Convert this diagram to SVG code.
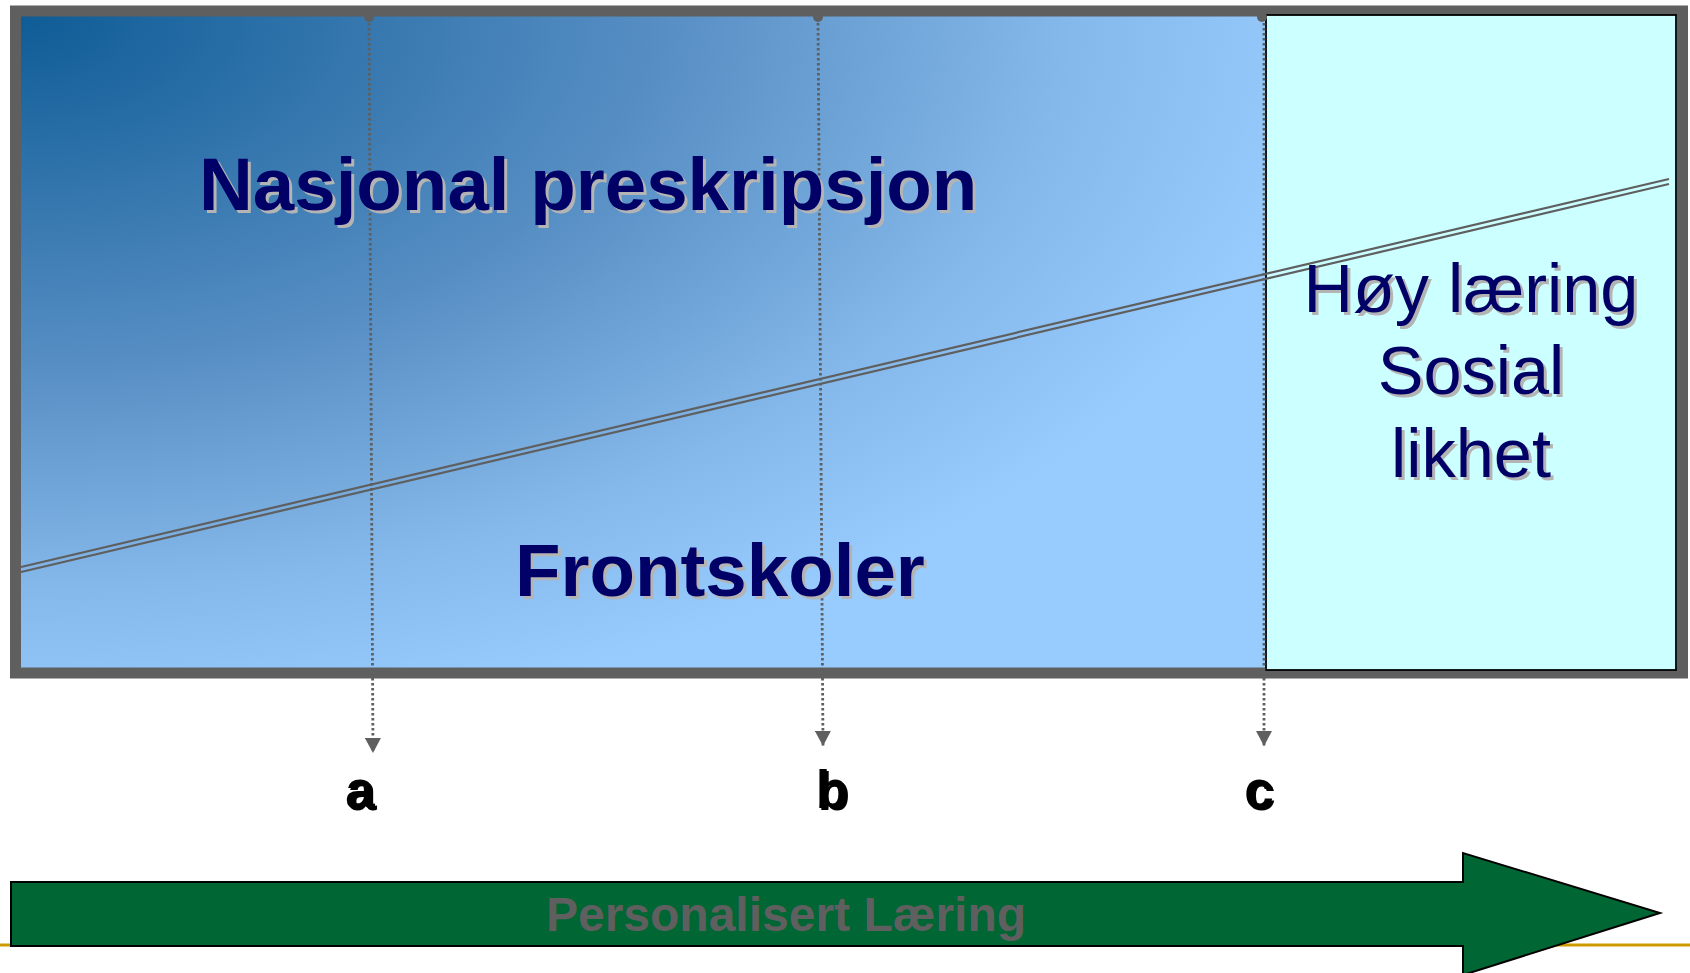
<svg xmlns="http://www.w3.org/2000/svg" width="1690" height="973" viewBox="0 0 1690 973">
  <defs>
    <radialGradient id="bg" gradientUnits="userSpaceOnUse" cx="0" cy="0" r="1" gradientTransform="translate(21,17) scale(1320,720)">
      <stop offset="0" stop-color="#0f5c96"/>
      <stop offset="0.5" stop-color="#5990c5"/>
      <stop offset="0.8" stop-color="#86b9eb"/>
      <stop offset="1" stop-color="#98cbfe"/>
    </radialGradient>
    <marker id="tri" markerUnits="userSpaceOnUse" markerWidth="16" markerHeight="16" refX="15" refY="8" orient="auto">
      <path d="M0,0 L15,8 L0,16 Z" fill="#5f5f5f"/>
    </marker>
  </defs>
  <style>
    .main { font-family: "Liberation Sans", Arial, sans-serif; font-weight: bold; font-size: 74.5px; fill: #000066; }
    .side { font-family: "Liberation Sans", Arial, sans-serif; font-size: 68.5px; fill: #000066; text-anchor: middle; }
    .shadow { fill: #b4b4b4; }
    .lbl { font-family: "Liberation Sans", Arial, sans-serif; font-weight: bold; font-size: 53px; fill: #000000; text-anchor: middle; }
    .dot { stroke: #5f5f5f; stroke-width: 2.8; stroke-dasharray: 2.6 2.4; fill: none; }
    .dbl { stroke: #5f5f5f; stroke-width: 2.2; fill: none; }
  </style>

  <!-- gold rule -->
  <line x1="0" y1="945" x2="1690" y2="945" stroke="#cc9900" stroke-width="3"/>

  <!-- main frame -->
  <g id="frame">
    <rect x="15.5" y="11" width="1667" height="662" fill="url(#bg)" stroke="#5f5f5f" stroke-width="11"/>
  </g>

  <g id="goal-box">
    <rect x="1266" y="15" width="410" height="655" fill="#ccffff" stroke="#000000" stroke-width="1.8"/>
  </g>

  <!-- connectors -->
  <g id="connectors">
    <line class="dbl" x1="21" y1="567" x2="1669" y2="179"/>
    <line class="dbl" x1="21" y1="572" x2="1669" y2="184"/>
    <circle cx="369" cy="17" r="5" fill="#5f5f5f"/>
    <circle cx="818" cy="17" r="5" fill="#5f5f5f"/>
    <circle cx="1262" cy="17" r="5" fill="#5f5f5f"/>
    <line class="dot" x1="369" y1="18" x2="373" y2="753" marker-end="url(#tri)"/>
    <line class="dot" x1="818" y1="18" x2="823" y2="746" marker-end="url(#tri)"/>
    <line class="dot" x1="1264" y1="18" x2="1264" y2="746" marker-end="url(#tri)"/>
  </g>

  <g id="title-top">
    <text class="main shadow" x="202" y="213">Nasjonal preskripsjon</text>
    <text class="main" x="199" y="210">Nasjonal preskripsjon</text>
  </g>

  <g id="title-bottom">
    <text class="main shadow" x="518" y="599">Frontskoler</text>
    <text class="main" x="515" y="596">Frontskoler</text>
  </g>

  <g id="goal-text">
    <text class="side shadow" x="1474" y="315">Høy læring</text>
    <text class="side" x="1471" y="312">Høy læring</text>
    <text class="side shadow" x="1474" y="397">Sosial</text>
    <text class="side" x="1471" y="394">Sosial</text>
    <text class="side shadow" x="1474" y="480">likhet</text>
    <text class="side" x="1471" y="477">likhet</text>
  </g>

  <g id="label-a">
    <text class="lbl shadow" x="362" y="810">a</text>
    <text class="lbl" x="360" y="808">a</text>
  </g>
  <g id="label-b">
    <text class="lbl shadow" x="834" y="810">b</text>
    <text class="lbl" x="832" y="808">b</text>
  </g>
  <g id="label-c">
    <text class="lbl shadow" x="1261" y="810">c</text>
    <text class="lbl" x="1259" y="808">c</text>
  </g>

  <g id="progress-arrow">
    <path d="M11,882 L1463,882 L1463,853 L1660,913 L1463,975 L1463,946 L11,946 Z" fill="#006633" stroke="#000000" stroke-width="2"/>
    <text x="786" y="931" text-anchor="middle" font-family="Liberation Sans, Arial, sans-serif" font-weight="bold" font-size="48" fill="#5f5f5f">Personalisert Læring</text>
  </g>
</svg>
